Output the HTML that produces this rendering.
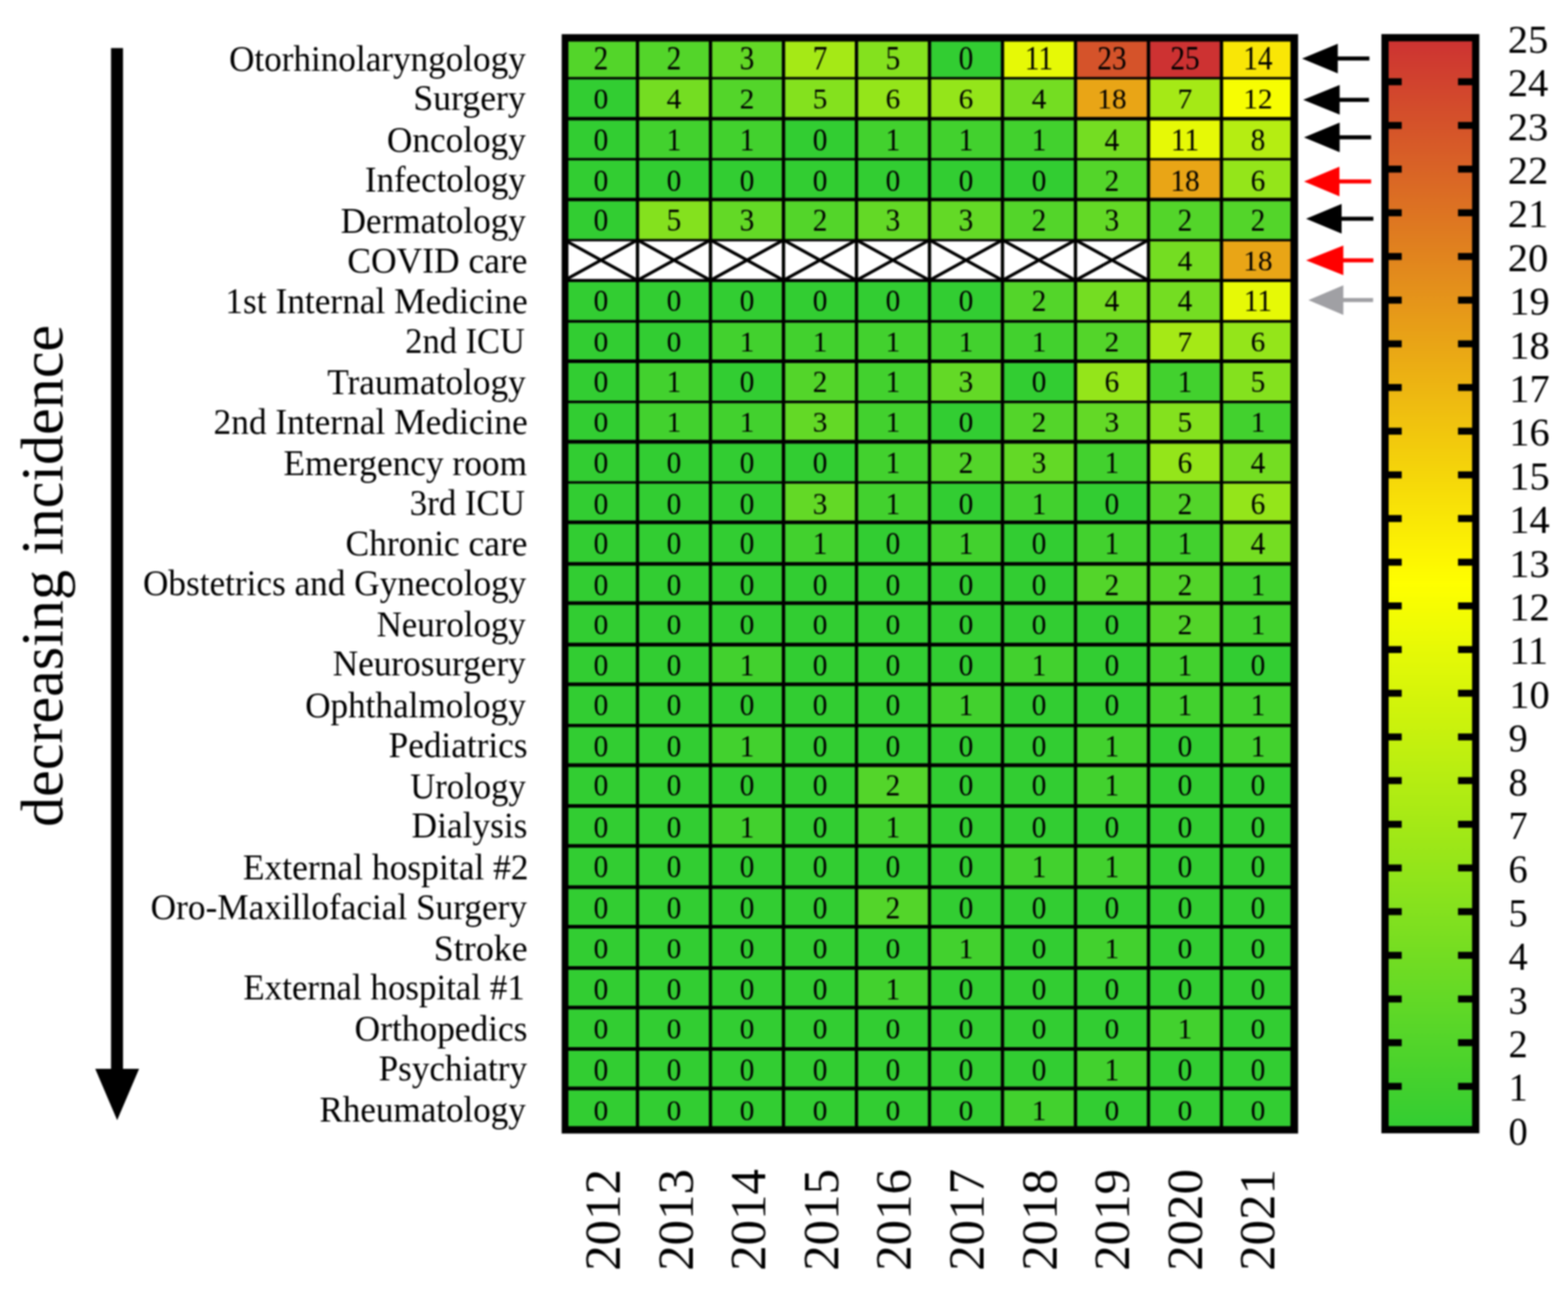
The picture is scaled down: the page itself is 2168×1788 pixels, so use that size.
<!DOCTYPE html>
<html lang="en"><head><meta charset="utf-8"><title>Incidence heatmap</title>
<style>
html,body{margin:0;padding:0;background:#fff;}
body{width:2168px;height:1788px;overflow:hidden;}
svg{display:block;filter:blur(0.9px);}
text{font-family:"Liberation Serif",serif;fill:#000;}
.lab{font-size:50px;text-anchor:end;}
.num{font-size:44px;text-anchor:middle;}
.yr{font-size:70.5px;text-anchor:middle;}
.cb{font-size:56px;text-anchor:start;}
.ttl{font-size:82.5px;text-anchor:middle;}
</style></head><body>
<svg width="2168" height="1788" viewBox="0 0 2168 1788">
<defs><linearGradient id="cbg" x1="0" y1="0" x2="0" y2="1">
<stop offset="0" stop-color="#cd3232"/><stop offset="0.5" stop-color="#ffff00"/><stop offset="1" stop-color="#32cd32"/>
</linearGradient></defs>
<rect x="0" y="0" width="2168" height="1788" fill="#fff"/>
<g id="bigarrow">
<rect x="153.5" y="66.5" width="16.6" height="1420" fill="#000"/>
<polygon points="131.7,1478 192.3,1478 162,1549" fill="#000"/>
</g>
<text class="ttl" transform="translate(85.8,796.4) rotate(-90) scale(1.007,1)">decreasing incidence</text>
<g id="cells">
<rect x="780.50" y="52.15" width="100.93" height="55.93" fill="#53d52a"/>
<rect x="881.43" y="52.15" width="100.93" height="55.93" fill="#53d52a"/>
<rect x="982.36" y="52.15" width="100.93" height="55.93" fill="#63d926"/>
<rect x="1083.29" y="52.15" width="100.93" height="55.93" fill="#a5e916"/>
<rect x="1184.22" y="52.15" width="100.93" height="55.93" fill="#84e11e"/>
<rect x="1285.15" y="52.15" width="100.93" height="55.93" fill="#32cd32"/>
<rect x="1386.08" y="52.15" width="100.93" height="55.93" fill="#e6f906"/>
<rect x="1487.01" y="52.15" width="100.93" height="55.93" fill="#d5532a"/>
<rect x="1587.94" y="52.15" width="100.93" height="55.93" fill="#cd3232"/>
<rect x="1688.87" y="52.15" width="100.93" height="55.93" fill="#f9e606"/>
<rect x="780.50" y="108.08" width="100.93" height="55.93" fill="#32cd32"/>
<rect x="881.43" y="108.08" width="100.93" height="55.93" fill="#74dd22"/>
<rect x="982.36" y="108.08" width="100.93" height="55.93" fill="#53d52a"/>
<rect x="1083.29" y="108.08" width="100.93" height="55.93" fill="#84e11e"/>
<rect x="1184.22" y="108.08" width="100.93" height="55.93" fill="#94e51a"/>
<rect x="1285.15" y="108.08" width="100.93" height="55.93" fill="#94e51a"/>
<rect x="1386.08" y="108.08" width="100.93" height="55.93" fill="#74dd22"/>
<rect x="1487.01" y="108.08" width="100.93" height="55.93" fill="#e9a516"/>
<rect x="1587.94" y="108.08" width="100.93" height="55.93" fill="#a5e916"/>
<rect x="1688.87" y="108.08" width="100.93" height="55.93" fill="#f7fd02"/>
<rect x="780.50" y="164.00" width="100.93" height="55.93" fill="#32cd32"/>
<rect x="881.43" y="164.00" width="100.93" height="55.93" fill="#42d12e"/>
<rect x="982.36" y="164.00" width="100.93" height="55.93" fill="#42d12e"/>
<rect x="1083.29" y="164.00" width="100.93" height="55.93" fill="#32cd32"/>
<rect x="1184.22" y="164.00" width="100.93" height="55.93" fill="#42d12e"/>
<rect x="1285.15" y="164.00" width="100.93" height="55.93" fill="#42d12e"/>
<rect x="1386.08" y="164.00" width="100.93" height="55.93" fill="#42d12e"/>
<rect x="1487.01" y="164.00" width="100.93" height="55.93" fill="#74dd22"/>
<rect x="1587.94" y="164.00" width="100.93" height="55.93" fill="#e6f906"/>
<rect x="1688.87" y="164.00" width="100.93" height="55.93" fill="#b5ed12"/>
<rect x="780.50" y="219.93" width="100.93" height="55.93" fill="#32cd32"/>
<rect x="881.43" y="219.93" width="100.93" height="55.93" fill="#32cd32"/>
<rect x="982.36" y="219.93" width="100.93" height="55.93" fill="#32cd32"/>
<rect x="1083.29" y="219.93" width="100.93" height="55.93" fill="#32cd32"/>
<rect x="1184.22" y="219.93" width="100.93" height="55.93" fill="#32cd32"/>
<rect x="1285.15" y="219.93" width="100.93" height="55.93" fill="#32cd32"/>
<rect x="1386.08" y="219.93" width="100.93" height="55.93" fill="#32cd32"/>
<rect x="1487.01" y="219.93" width="100.93" height="55.93" fill="#53d52a"/>
<rect x="1587.94" y="219.93" width="100.93" height="55.93" fill="#e9a516"/>
<rect x="1688.87" y="219.93" width="100.93" height="55.93" fill="#94e51a"/>
<rect x="780.50" y="275.85" width="100.93" height="55.93" fill="#32cd32"/>
<rect x="881.43" y="275.85" width="100.93" height="55.93" fill="#84e11e"/>
<rect x="982.36" y="275.85" width="100.93" height="55.93" fill="#63d926"/>
<rect x="1083.29" y="275.85" width="100.93" height="55.93" fill="#53d52a"/>
<rect x="1184.22" y="275.85" width="100.93" height="55.93" fill="#63d926"/>
<rect x="1285.15" y="275.85" width="100.93" height="55.93" fill="#63d926"/>
<rect x="1386.08" y="275.85" width="100.93" height="55.93" fill="#53d52a"/>
<rect x="1487.01" y="275.85" width="100.93" height="55.93" fill="#63d926"/>
<rect x="1587.94" y="275.85" width="100.93" height="55.93" fill="#53d52a"/>
<rect x="1688.87" y="275.85" width="100.93" height="55.93" fill="#53d52a"/>
<rect x="780.50" y="331.78" width="100.93" height="55.93" fill="#fff"/>
<path d="M780.50 331.78 L881.43 387.71 M780.50 387.71 L881.43 331.78" stroke="#000" stroke-width="4.3" fill="none"/>
<rect x="881.43" y="331.78" width="100.93" height="55.93" fill="#fff"/>
<path d="M881.43 331.78 L982.36 387.71 M881.43 387.71 L982.36 331.78" stroke="#000" stroke-width="4.3" fill="none"/>
<rect x="982.36" y="331.78" width="100.93" height="55.93" fill="#fff"/>
<path d="M982.36 331.78 L1083.29 387.71 M982.36 387.71 L1083.29 331.78" stroke="#000" stroke-width="4.3" fill="none"/>
<rect x="1083.29" y="331.78" width="100.93" height="55.93" fill="#fff"/>
<path d="M1083.29 331.78 L1184.22 387.71 M1083.29 387.71 L1184.22 331.78" stroke="#000" stroke-width="4.3" fill="none"/>
<rect x="1184.22" y="331.78" width="100.93" height="55.93" fill="#fff"/>
<path d="M1184.22 331.78 L1285.15 387.71 M1184.22 387.71 L1285.15 331.78" stroke="#000" stroke-width="4.3" fill="none"/>
<rect x="1285.15" y="331.78" width="100.93" height="55.93" fill="#fff"/>
<path d="M1285.15 331.78 L1386.08 387.71 M1285.15 387.71 L1386.08 331.78" stroke="#000" stroke-width="4.3" fill="none"/>
<rect x="1386.08" y="331.78" width="100.93" height="55.93" fill="#fff"/>
<path d="M1386.08 331.78 L1487.01 387.71 M1386.08 387.71 L1487.01 331.78" stroke="#000" stroke-width="4.3" fill="none"/>
<rect x="1487.01" y="331.78" width="100.93" height="55.93" fill="#fff"/>
<path d="M1487.01 331.78 L1587.94 387.71 M1487.01 387.71 L1587.94 331.78" stroke="#000" stroke-width="4.3" fill="none"/>
<rect x="1587.94" y="331.78" width="100.93" height="55.93" fill="#74dd22"/>
<rect x="1688.87" y="331.78" width="100.93" height="55.93" fill="#e9a516"/>
<rect x="780.50" y="387.71" width="100.93" height="55.93" fill="#32cd32"/>
<rect x="881.43" y="387.71" width="100.93" height="55.93" fill="#32cd32"/>
<rect x="982.36" y="387.71" width="100.93" height="55.93" fill="#32cd32"/>
<rect x="1083.29" y="387.71" width="100.93" height="55.93" fill="#32cd32"/>
<rect x="1184.22" y="387.71" width="100.93" height="55.93" fill="#32cd32"/>
<rect x="1285.15" y="387.71" width="100.93" height="55.93" fill="#32cd32"/>
<rect x="1386.08" y="387.71" width="100.93" height="55.93" fill="#53d52a"/>
<rect x="1487.01" y="387.71" width="100.93" height="55.93" fill="#74dd22"/>
<rect x="1587.94" y="387.71" width="100.93" height="55.93" fill="#74dd22"/>
<rect x="1688.87" y="387.71" width="100.93" height="55.93" fill="#e6f906"/>
<rect x="780.50" y="443.63" width="100.93" height="55.93" fill="#32cd32"/>
<rect x="881.43" y="443.63" width="100.93" height="55.93" fill="#32cd32"/>
<rect x="982.36" y="443.63" width="100.93" height="55.93" fill="#42d12e"/>
<rect x="1083.29" y="443.63" width="100.93" height="55.93" fill="#42d12e"/>
<rect x="1184.22" y="443.63" width="100.93" height="55.93" fill="#42d12e"/>
<rect x="1285.15" y="443.63" width="100.93" height="55.93" fill="#42d12e"/>
<rect x="1386.08" y="443.63" width="100.93" height="55.93" fill="#42d12e"/>
<rect x="1487.01" y="443.63" width="100.93" height="55.93" fill="#53d52a"/>
<rect x="1587.94" y="443.63" width="100.93" height="55.93" fill="#a5e916"/>
<rect x="1688.87" y="443.63" width="100.93" height="55.93" fill="#94e51a"/>
<rect x="780.50" y="499.56" width="100.93" height="55.93" fill="#32cd32"/>
<rect x="881.43" y="499.56" width="100.93" height="55.93" fill="#42d12e"/>
<rect x="982.36" y="499.56" width="100.93" height="55.93" fill="#32cd32"/>
<rect x="1083.29" y="499.56" width="100.93" height="55.93" fill="#53d52a"/>
<rect x="1184.22" y="499.56" width="100.93" height="55.93" fill="#42d12e"/>
<rect x="1285.15" y="499.56" width="100.93" height="55.93" fill="#63d926"/>
<rect x="1386.08" y="499.56" width="100.93" height="55.93" fill="#32cd32"/>
<rect x="1487.01" y="499.56" width="100.93" height="55.93" fill="#94e51a"/>
<rect x="1587.94" y="499.56" width="100.93" height="55.93" fill="#42d12e"/>
<rect x="1688.87" y="499.56" width="100.93" height="55.93" fill="#84e11e"/>
<rect x="780.50" y="555.48" width="100.93" height="55.93" fill="#32cd32"/>
<rect x="881.43" y="555.48" width="100.93" height="55.93" fill="#42d12e"/>
<rect x="982.36" y="555.48" width="100.93" height="55.93" fill="#42d12e"/>
<rect x="1083.29" y="555.48" width="100.93" height="55.93" fill="#63d926"/>
<rect x="1184.22" y="555.48" width="100.93" height="55.93" fill="#42d12e"/>
<rect x="1285.15" y="555.48" width="100.93" height="55.93" fill="#32cd32"/>
<rect x="1386.08" y="555.48" width="100.93" height="55.93" fill="#53d52a"/>
<rect x="1487.01" y="555.48" width="100.93" height="55.93" fill="#63d926"/>
<rect x="1587.94" y="555.48" width="100.93" height="55.93" fill="#84e11e"/>
<rect x="1688.87" y="555.48" width="100.93" height="55.93" fill="#42d12e"/>
<rect x="780.50" y="611.41" width="100.93" height="55.93" fill="#32cd32"/>
<rect x="881.43" y="611.41" width="100.93" height="55.93" fill="#32cd32"/>
<rect x="982.36" y="611.41" width="100.93" height="55.93" fill="#32cd32"/>
<rect x="1083.29" y="611.41" width="100.93" height="55.93" fill="#32cd32"/>
<rect x="1184.22" y="611.41" width="100.93" height="55.93" fill="#42d12e"/>
<rect x="1285.15" y="611.41" width="100.93" height="55.93" fill="#53d52a"/>
<rect x="1386.08" y="611.41" width="100.93" height="55.93" fill="#63d926"/>
<rect x="1487.01" y="611.41" width="100.93" height="55.93" fill="#42d12e"/>
<rect x="1587.94" y="611.41" width="100.93" height="55.93" fill="#94e51a"/>
<rect x="1688.87" y="611.41" width="100.93" height="55.93" fill="#74dd22"/>
<rect x="780.50" y="667.34" width="100.93" height="55.93" fill="#32cd32"/>
<rect x="881.43" y="667.34" width="100.93" height="55.93" fill="#32cd32"/>
<rect x="982.36" y="667.34" width="100.93" height="55.93" fill="#32cd32"/>
<rect x="1083.29" y="667.34" width="100.93" height="55.93" fill="#63d926"/>
<rect x="1184.22" y="667.34" width="100.93" height="55.93" fill="#42d12e"/>
<rect x="1285.15" y="667.34" width="100.93" height="55.93" fill="#32cd32"/>
<rect x="1386.08" y="667.34" width="100.93" height="55.93" fill="#42d12e"/>
<rect x="1487.01" y="667.34" width="100.93" height="55.93" fill="#32cd32"/>
<rect x="1587.94" y="667.34" width="100.93" height="55.93" fill="#53d52a"/>
<rect x="1688.87" y="667.34" width="100.93" height="55.93" fill="#94e51a"/>
<rect x="780.50" y="723.26" width="100.93" height="55.93" fill="#32cd32"/>
<rect x="881.43" y="723.26" width="100.93" height="55.93" fill="#32cd32"/>
<rect x="982.36" y="723.26" width="100.93" height="55.93" fill="#32cd32"/>
<rect x="1083.29" y="723.26" width="100.93" height="55.93" fill="#42d12e"/>
<rect x="1184.22" y="723.26" width="100.93" height="55.93" fill="#32cd32"/>
<rect x="1285.15" y="723.26" width="100.93" height="55.93" fill="#42d12e"/>
<rect x="1386.08" y="723.26" width="100.93" height="55.93" fill="#32cd32"/>
<rect x="1487.01" y="723.26" width="100.93" height="55.93" fill="#42d12e"/>
<rect x="1587.94" y="723.26" width="100.93" height="55.93" fill="#42d12e"/>
<rect x="1688.87" y="723.26" width="100.93" height="55.93" fill="#74dd22"/>
<rect x="780.50" y="779.19" width="100.93" height="55.93" fill="#32cd32"/>
<rect x="881.43" y="779.19" width="100.93" height="55.93" fill="#32cd32"/>
<rect x="982.36" y="779.19" width="100.93" height="55.93" fill="#32cd32"/>
<rect x="1083.29" y="779.19" width="100.93" height="55.93" fill="#32cd32"/>
<rect x="1184.22" y="779.19" width="100.93" height="55.93" fill="#32cd32"/>
<rect x="1285.15" y="779.19" width="100.93" height="55.93" fill="#32cd32"/>
<rect x="1386.08" y="779.19" width="100.93" height="55.93" fill="#32cd32"/>
<rect x="1487.01" y="779.19" width="100.93" height="55.93" fill="#53d52a"/>
<rect x="1587.94" y="779.19" width="100.93" height="55.93" fill="#53d52a"/>
<rect x="1688.87" y="779.19" width="100.93" height="55.93" fill="#42d12e"/>
<rect x="780.50" y="835.11" width="100.93" height="55.93" fill="#32cd32"/>
<rect x="881.43" y="835.11" width="100.93" height="55.93" fill="#32cd32"/>
<rect x="982.36" y="835.11" width="100.93" height="55.93" fill="#32cd32"/>
<rect x="1083.29" y="835.11" width="100.93" height="55.93" fill="#32cd32"/>
<rect x="1184.22" y="835.11" width="100.93" height="55.93" fill="#32cd32"/>
<rect x="1285.15" y="835.11" width="100.93" height="55.93" fill="#32cd32"/>
<rect x="1386.08" y="835.11" width="100.93" height="55.93" fill="#32cd32"/>
<rect x="1487.01" y="835.11" width="100.93" height="55.93" fill="#32cd32"/>
<rect x="1587.94" y="835.11" width="100.93" height="55.93" fill="#53d52a"/>
<rect x="1688.87" y="835.11" width="100.93" height="55.93" fill="#42d12e"/>
<rect x="780.50" y="891.04" width="100.93" height="55.93" fill="#32cd32"/>
<rect x="881.43" y="891.04" width="100.93" height="55.93" fill="#32cd32"/>
<rect x="982.36" y="891.04" width="100.93" height="55.93" fill="#42d12e"/>
<rect x="1083.29" y="891.04" width="100.93" height="55.93" fill="#32cd32"/>
<rect x="1184.22" y="891.04" width="100.93" height="55.93" fill="#32cd32"/>
<rect x="1285.15" y="891.04" width="100.93" height="55.93" fill="#32cd32"/>
<rect x="1386.08" y="891.04" width="100.93" height="55.93" fill="#42d12e"/>
<rect x="1487.01" y="891.04" width="100.93" height="55.93" fill="#32cd32"/>
<rect x="1587.94" y="891.04" width="100.93" height="55.93" fill="#42d12e"/>
<rect x="1688.87" y="891.04" width="100.93" height="55.93" fill="#32cd32"/>
<rect x="780.50" y="946.96" width="100.93" height="55.93" fill="#32cd32"/>
<rect x="881.43" y="946.96" width="100.93" height="55.93" fill="#32cd32"/>
<rect x="982.36" y="946.96" width="100.93" height="55.93" fill="#32cd32"/>
<rect x="1083.29" y="946.96" width="100.93" height="55.93" fill="#32cd32"/>
<rect x="1184.22" y="946.96" width="100.93" height="55.93" fill="#32cd32"/>
<rect x="1285.15" y="946.96" width="100.93" height="55.93" fill="#42d12e"/>
<rect x="1386.08" y="946.96" width="100.93" height="55.93" fill="#32cd32"/>
<rect x="1487.01" y="946.96" width="100.93" height="55.93" fill="#32cd32"/>
<rect x="1587.94" y="946.96" width="100.93" height="55.93" fill="#42d12e"/>
<rect x="1688.87" y="946.96" width="100.93" height="55.93" fill="#42d12e"/>
<rect x="780.50" y="1002.89" width="100.93" height="55.93" fill="#32cd32"/>
<rect x="881.43" y="1002.89" width="100.93" height="55.93" fill="#32cd32"/>
<rect x="982.36" y="1002.89" width="100.93" height="55.93" fill="#42d12e"/>
<rect x="1083.29" y="1002.89" width="100.93" height="55.93" fill="#32cd32"/>
<rect x="1184.22" y="1002.89" width="100.93" height="55.93" fill="#32cd32"/>
<rect x="1285.15" y="1002.89" width="100.93" height="55.93" fill="#32cd32"/>
<rect x="1386.08" y="1002.89" width="100.93" height="55.93" fill="#32cd32"/>
<rect x="1487.01" y="1002.89" width="100.93" height="55.93" fill="#42d12e"/>
<rect x="1587.94" y="1002.89" width="100.93" height="55.93" fill="#32cd32"/>
<rect x="1688.87" y="1002.89" width="100.93" height="55.93" fill="#42d12e"/>
<rect x="780.50" y="1058.82" width="100.93" height="55.93" fill="#32cd32"/>
<rect x="881.43" y="1058.82" width="100.93" height="55.93" fill="#32cd32"/>
<rect x="982.36" y="1058.82" width="100.93" height="55.93" fill="#32cd32"/>
<rect x="1083.29" y="1058.82" width="100.93" height="55.93" fill="#32cd32"/>
<rect x="1184.22" y="1058.82" width="100.93" height="55.93" fill="#53d52a"/>
<rect x="1285.15" y="1058.82" width="100.93" height="55.93" fill="#32cd32"/>
<rect x="1386.08" y="1058.82" width="100.93" height="55.93" fill="#32cd32"/>
<rect x="1487.01" y="1058.82" width="100.93" height="55.93" fill="#42d12e"/>
<rect x="1587.94" y="1058.82" width="100.93" height="55.93" fill="#32cd32"/>
<rect x="1688.87" y="1058.82" width="100.93" height="55.93" fill="#32cd32"/>
<rect x="780.50" y="1114.74" width="100.93" height="55.93" fill="#32cd32"/>
<rect x="881.43" y="1114.74" width="100.93" height="55.93" fill="#32cd32"/>
<rect x="982.36" y="1114.74" width="100.93" height="55.93" fill="#42d12e"/>
<rect x="1083.29" y="1114.74" width="100.93" height="55.93" fill="#32cd32"/>
<rect x="1184.22" y="1114.74" width="100.93" height="55.93" fill="#42d12e"/>
<rect x="1285.15" y="1114.74" width="100.93" height="55.93" fill="#32cd32"/>
<rect x="1386.08" y="1114.74" width="100.93" height="55.93" fill="#32cd32"/>
<rect x="1487.01" y="1114.74" width="100.93" height="55.93" fill="#32cd32"/>
<rect x="1587.94" y="1114.74" width="100.93" height="55.93" fill="#32cd32"/>
<rect x="1688.87" y="1114.74" width="100.93" height="55.93" fill="#32cd32"/>
<rect x="780.50" y="1170.67" width="100.93" height="55.93" fill="#32cd32"/>
<rect x="881.43" y="1170.67" width="100.93" height="55.93" fill="#32cd32"/>
<rect x="982.36" y="1170.67" width="100.93" height="55.93" fill="#32cd32"/>
<rect x="1083.29" y="1170.67" width="100.93" height="55.93" fill="#32cd32"/>
<rect x="1184.22" y="1170.67" width="100.93" height="55.93" fill="#32cd32"/>
<rect x="1285.15" y="1170.67" width="100.93" height="55.93" fill="#32cd32"/>
<rect x="1386.08" y="1170.67" width="100.93" height="55.93" fill="#42d12e"/>
<rect x="1487.01" y="1170.67" width="100.93" height="55.93" fill="#42d12e"/>
<rect x="1587.94" y="1170.67" width="100.93" height="55.93" fill="#32cd32"/>
<rect x="1688.87" y="1170.67" width="100.93" height="55.93" fill="#32cd32"/>
<rect x="780.50" y="1226.59" width="100.93" height="55.93" fill="#32cd32"/>
<rect x="881.43" y="1226.59" width="100.93" height="55.93" fill="#32cd32"/>
<rect x="982.36" y="1226.59" width="100.93" height="55.93" fill="#32cd32"/>
<rect x="1083.29" y="1226.59" width="100.93" height="55.93" fill="#32cd32"/>
<rect x="1184.22" y="1226.59" width="100.93" height="55.93" fill="#53d52a"/>
<rect x="1285.15" y="1226.59" width="100.93" height="55.93" fill="#32cd32"/>
<rect x="1386.08" y="1226.59" width="100.93" height="55.93" fill="#32cd32"/>
<rect x="1487.01" y="1226.59" width="100.93" height="55.93" fill="#32cd32"/>
<rect x="1587.94" y="1226.59" width="100.93" height="55.93" fill="#32cd32"/>
<rect x="1688.87" y="1226.59" width="100.93" height="55.93" fill="#32cd32"/>
<rect x="780.50" y="1282.52" width="100.93" height="55.93" fill="#32cd32"/>
<rect x="881.43" y="1282.52" width="100.93" height="55.93" fill="#32cd32"/>
<rect x="982.36" y="1282.52" width="100.93" height="55.93" fill="#32cd32"/>
<rect x="1083.29" y="1282.52" width="100.93" height="55.93" fill="#32cd32"/>
<rect x="1184.22" y="1282.52" width="100.93" height="55.93" fill="#32cd32"/>
<rect x="1285.15" y="1282.52" width="100.93" height="55.93" fill="#42d12e"/>
<rect x="1386.08" y="1282.52" width="100.93" height="55.93" fill="#32cd32"/>
<rect x="1487.01" y="1282.52" width="100.93" height="55.93" fill="#42d12e"/>
<rect x="1587.94" y="1282.52" width="100.93" height="55.93" fill="#32cd32"/>
<rect x="1688.87" y="1282.52" width="100.93" height="55.93" fill="#32cd32"/>
<rect x="780.50" y="1338.45" width="100.93" height="55.93" fill="#32cd32"/>
<rect x="881.43" y="1338.45" width="100.93" height="55.93" fill="#32cd32"/>
<rect x="982.36" y="1338.45" width="100.93" height="55.93" fill="#32cd32"/>
<rect x="1083.29" y="1338.45" width="100.93" height="55.93" fill="#32cd32"/>
<rect x="1184.22" y="1338.45" width="100.93" height="55.93" fill="#42d12e"/>
<rect x="1285.15" y="1338.45" width="100.93" height="55.93" fill="#32cd32"/>
<rect x="1386.08" y="1338.45" width="100.93" height="55.93" fill="#32cd32"/>
<rect x="1487.01" y="1338.45" width="100.93" height="55.93" fill="#32cd32"/>
<rect x="1587.94" y="1338.45" width="100.93" height="55.93" fill="#32cd32"/>
<rect x="1688.87" y="1338.45" width="100.93" height="55.93" fill="#32cd32"/>
<rect x="780.50" y="1394.37" width="100.93" height="55.93" fill="#32cd32"/>
<rect x="881.43" y="1394.37" width="100.93" height="55.93" fill="#32cd32"/>
<rect x="982.36" y="1394.37" width="100.93" height="55.93" fill="#32cd32"/>
<rect x="1083.29" y="1394.37" width="100.93" height="55.93" fill="#32cd32"/>
<rect x="1184.22" y="1394.37" width="100.93" height="55.93" fill="#32cd32"/>
<rect x="1285.15" y="1394.37" width="100.93" height="55.93" fill="#32cd32"/>
<rect x="1386.08" y="1394.37" width="100.93" height="55.93" fill="#32cd32"/>
<rect x="1487.01" y="1394.37" width="100.93" height="55.93" fill="#32cd32"/>
<rect x="1587.94" y="1394.37" width="100.93" height="55.93" fill="#42d12e"/>
<rect x="1688.87" y="1394.37" width="100.93" height="55.93" fill="#32cd32"/>
<rect x="780.50" y="1450.30" width="100.93" height="55.93" fill="#32cd32"/>
<rect x="881.43" y="1450.30" width="100.93" height="55.93" fill="#32cd32"/>
<rect x="982.36" y="1450.30" width="100.93" height="55.93" fill="#32cd32"/>
<rect x="1083.29" y="1450.30" width="100.93" height="55.93" fill="#32cd32"/>
<rect x="1184.22" y="1450.30" width="100.93" height="55.93" fill="#32cd32"/>
<rect x="1285.15" y="1450.30" width="100.93" height="55.93" fill="#32cd32"/>
<rect x="1386.08" y="1450.30" width="100.93" height="55.93" fill="#32cd32"/>
<rect x="1487.01" y="1450.30" width="100.93" height="55.93" fill="#42d12e"/>
<rect x="1587.94" y="1450.30" width="100.93" height="55.93" fill="#32cd32"/>
<rect x="1688.87" y="1450.30" width="100.93" height="55.93" fill="#32cd32"/>
<rect x="780.50" y="1506.22" width="100.93" height="55.93" fill="#32cd32"/>
<rect x="881.43" y="1506.22" width="100.93" height="55.93" fill="#32cd32"/>
<rect x="982.36" y="1506.22" width="100.93" height="55.93" fill="#32cd32"/>
<rect x="1083.29" y="1506.22" width="100.93" height="55.93" fill="#32cd32"/>
<rect x="1184.22" y="1506.22" width="100.93" height="55.93" fill="#32cd32"/>
<rect x="1285.15" y="1506.22" width="100.93" height="55.93" fill="#32cd32"/>
<rect x="1386.08" y="1506.22" width="100.93" height="55.93" fill="#42d12e"/>
<rect x="1487.01" y="1506.22" width="100.93" height="55.93" fill="#32cd32"/>
<rect x="1587.94" y="1506.22" width="100.93" height="55.93" fill="#32cd32"/>
<rect x="1688.87" y="1506.22" width="100.93" height="55.93" fill="#32cd32"/>
</g>
<g id="grid" stroke="#000" stroke-width="4.6">
<line x1="881.43" y1="52.15" x2="881.43" y2="1562.15"/>
<line x1="982.36" y1="52.15" x2="982.36" y2="1562.15"/>
<line x1="1083.29" y1="52.15" x2="1083.29" y2="1562.15"/>
<line x1="1184.22" y1="52.15" x2="1184.22" y2="1562.15"/>
<line x1="1285.15" y1="52.15" x2="1285.15" y2="1562.15"/>
<line x1="1386.08" y1="52.15" x2="1386.08" y2="1562.15"/>
<line x1="1487.01" y1="52.15" x2="1487.01" y2="1562.15"/>
<line x1="1587.94" y1="52.15" x2="1587.94" y2="1562.15"/>
<line x1="1688.87" y1="52.15" x2="1688.87" y2="1562.15"/>
<line x1="780.50" y1="108.15" x2="1789.80" y2="108.15" stroke-width="3.4"/>
<line x1="780.50" y1="164.05" x2="1789.80" y2="164.05" stroke-width="4.7"/>
<line x1="780.50" y1="220.15" x2="1789.80" y2="220.15" stroke-width="3.3"/>
<line x1="780.50" y1="275.95" x2="1789.80" y2="275.95" stroke-width="4.7"/>
<line x1="780.50" y1="332.15" x2="1789.80" y2="332.15" stroke-width="3.4"/>
<line x1="780.50" y1="387.85" x2="1789.80" y2="387.85" stroke-width="4.4"/>
<line x1="780.50" y1="444.30" x2="1789.80" y2="444.30" stroke-width="3.8"/>
<line x1="780.50" y1="499.50" x2="1789.80" y2="499.50" stroke-width="4.8"/>
<line x1="780.50" y1="555.80" x2="1789.80" y2="555.80" stroke-width="3.6"/>
<line x1="780.50" y1="610.90" x2="1789.80" y2="610.90" stroke-width="5.2"/>
<line x1="780.50" y1="667.05" x2="1789.80" y2="667.05" stroke-width="3.2"/>
<line x1="780.50" y1="722.20" x2="1789.80" y2="722.20" stroke-width="5.0"/>
<line x1="780.50" y1="779.75" x2="1789.80" y2="779.75" stroke-width="5.2"/>
<line x1="780.50" y1="834.10" x2="1789.80" y2="834.10" stroke-width="5.0"/>
<line x1="780.50" y1="891.35" x2="1789.80" y2="891.35" stroke-width="5.2"/>
<line x1="780.50" y1="946.30" x2="1789.80" y2="946.30" stroke-width="5.0"/>
<line x1="780.50" y1="1003.30" x2="1789.80" y2="1003.30" stroke-width="4.6"/>
<line x1="780.50" y1="1058.10" x2="1789.80" y2="1058.10" stroke-width="5.2"/>
<line x1="780.50" y1="1114.60" x2="1789.80" y2="1114.60" stroke-width="5.0"/>
<line x1="780.50" y1="1169.80" x2="1789.80" y2="1169.80" stroke-width="5.1"/>
<line x1="780.50" y1="1226.80" x2="1789.80" y2="1226.80" stroke-width="5.1"/>
<line x1="780.50" y1="1281.40" x2="1789.80" y2="1281.40" stroke-width="5.0"/>
<line x1="780.50" y1="1338.60" x2="1789.80" y2="1338.60" stroke-width="5.0"/>
<line x1="780.50" y1="1393.20" x2="1789.80" y2="1393.20" stroke-width="5.0"/>
<line x1="780.50" y1="1450.50" x2="1789.80" y2="1450.50" stroke-width="5.0"/>
<line x1="780.50" y1="1505.10" x2="1789.80" y2="1505.10" stroke-width="5.1"/>
</g>
<path fill="#000" fill-rule="evenodd" d="M776.6 47.3H1794.8V1567.6H776.6Z M785.9 57.6H1784.2V1557.2H785.9Z"/>
<g id="nums">
<text class="num" transform="translate(830.97,95.90) scale(0.92,1.031)">2</text>
<text class="num" transform="translate(931.89,95.90) scale(0.92,1.031)">2</text>
<text class="num" transform="translate(1032.83,95.90) scale(0.92,1.031)">3</text>
<text class="num" transform="translate(1133.76,95.90) scale(0.92,1.031)">7</text>
<text class="num" transform="translate(1234.68,95.90) scale(0.92,1.031)">5</text>
<text class="num" transform="translate(1335.62,95.90) scale(0.92,1.031)">0</text>
<text class="num" transform="translate(1436.55,95.90) scale(0.92,1.031)">11</text>
<text class="num" transform="translate(1537.47,95.90) scale(0.92,1.031)">23</text>
<text class="num" transform="translate(1638.40,95.90) scale(0.92,1.031)">25</text>
<text class="num" transform="translate(1739.34,95.90) scale(0.92,1.031)">14</text>
<text class="num" transform="translate(830.97,149.90) scale(0.92,0.908)">0</text>
<text class="num" transform="translate(931.89,149.90) scale(0.92,0.908)">4</text>
<text class="num" transform="translate(1032.83,149.90) scale(0.92,0.908)">2</text>
<text class="num" transform="translate(1133.76,149.90) scale(0.92,0.908)">5</text>
<text class="num" transform="translate(1234.68,149.90) scale(0.92,0.908)">6</text>
<text class="num" transform="translate(1335.62,149.90) scale(0.92,0.908)">6</text>
<text class="num" transform="translate(1436.55,149.90) scale(0.92,0.908)">4</text>
<text class="num" transform="translate(1537.47,149.90) scale(0.92,0.908)">18</text>
<text class="num" transform="translate(1638.40,149.90) scale(0.92,0.908)">7</text>
<text class="num" transform="translate(1739.34,149.90) scale(0.92,0.908)">12</text>
<text class="num" transform="translate(830.97,207.50) scale(0.92,1.007)">0</text>
<text class="num" transform="translate(931.89,207.50) scale(0.92,1.007)">1</text>
<text class="num" transform="translate(1032.83,207.50) scale(0.92,1.007)">1</text>
<text class="num" transform="translate(1133.76,207.50) scale(0.92,1.007)">0</text>
<text class="num" transform="translate(1234.68,207.50) scale(0.92,1.007)">1</text>
<text class="num" transform="translate(1335.62,207.50) scale(0.92,1.007)">1</text>
<text class="num" transform="translate(1436.55,207.50) scale(0.92,1.007)">1</text>
<text class="num" transform="translate(1537.47,207.50) scale(0.92,1.007)">4</text>
<text class="num" transform="translate(1638.40,207.50) scale(0.92,1.007)">11</text>
<text class="num" transform="translate(1739.34,207.50) scale(0.92,1.007)">8</text>
<text class="num" transform="translate(830.97,263.60) scale(0.92,0.980)">0</text>
<text class="num" transform="translate(931.89,263.60) scale(0.92,0.980)">0</text>
<text class="num" transform="translate(1032.83,263.60) scale(0.92,0.980)">0</text>
<text class="num" transform="translate(1133.76,263.60) scale(0.92,0.980)">0</text>
<text class="num" transform="translate(1234.68,263.60) scale(0.92,0.980)">0</text>
<text class="num" transform="translate(1335.62,263.60) scale(0.92,0.980)">0</text>
<text class="num" transform="translate(1436.55,263.60) scale(0.92,0.980)">0</text>
<text class="num" transform="translate(1537.47,263.60) scale(0.92,0.980)">2</text>
<text class="num" transform="translate(1638.40,263.60) scale(0.92,0.980)">18</text>
<text class="num" transform="translate(1739.34,263.60) scale(0.92,0.980)">6</text>
<text class="num" transform="translate(830.97,319.10) scale(0.92,0.993)">0</text>
<text class="num" transform="translate(931.89,319.10) scale(0.92,0.993)">5</text>
<text class="num" transform="translate(1032.83,319.10) scale(0.92,0.993)">3</text>
<text class="num" transform="translate(1133.76,319.10) scale(0.92,0.993)">2</text>
<text class="num" transform="translate(1234.68,319.10) scale(0.92,0.993)">3</text>
<text class="num" transform="translate(1335.62,319.10) scale(0.92,0.993)">3</text>
<text class="num" transform="translate(1436.55,319.10) scale(0.92,0.993)">2</text>
<text class="num" transform="translate(1537.47,319.10) scale(0.92,0.993)">3</text>
<text class="num" transform="translate(1638.40,319.10) scale(0.92,0.993)">2</text>
<text class="num" transform="translate(1739.34,319.10) scale(0.92,0.993)">2</text>
<text class="num" transform="translate(1638.40,373.50) scale(0.92,0.929)">4</text>
<text class="num" transform="translate(1739.34,373.50) scale(0.92,0.929)">18</text>
<text class="num" transform="translate(830.97,430.30) scale(0.92,0.956)">0</text>
<text class="num" transform="translate(931.89,430.30) scale(0.92,0.956)">0</text>
<text class="num" transform="translate(1032.83,430.30) scale(0.92,0.956)">0</text>
<text class="num" transform="translate(1133.76,430.30) scale(0.92,0.956)">0</text>
<text class="num" transform="translate(1234.68,430.30) scale(0.92,0.956)">0</text>
<text class="num" transform="translate(1335.62,430.30) scale(0.92,0.956)">0</text>
<text class="num" transform="translate(1436.55,430.30) scale(0.92,0.956)">2</text>
<text class="num" transform="translate(1537.47,430.30) scale(0.92,0.956)">4</text>
<text class="num" transform="translate(1638.40,430.30) scale(0.92,0.956)">4</text>
<text class="num" transform="translate(1739.34,430.30) scale(0.92,0.956)">11</text>
<text class="num" transform="translate(830.97,485.80) scale(0.92,0.932)">0</text>
<text class="num" transform="translate(931.89,485.80) scale(0.92,0.932)">0</text>
<text class="num" transform="translate(1032.83,485.80) scale(0.92,0.932)">1</text>
<text class="num" transform="translate(1133.76,485.80) scale(0.92,0.932)">1</text>
<text class="num" transform="translate(1234.68,485.80) scale(0.92,0.932)">1</text>
<text class="num" transform="translate(1335.62,485.80) scale(0.92,0.932)">1</text>
<text class="num" transform="translate(1436.55,485.80) scale(0.92,0.932)">1</text>
<text class="num" transform="translate(1537.47,485.80) scale(0.92,0.932)">2</text>
<text class="num" transform="translate(1638.40,485.80) scale(0.92,0.932)">7</text>
<text class="num" transform="translate(1739.34,485.80) scale(0.92,0.932)">6</text>
<text class="num" transform="translate(830.97,542.20) scale(0.92,0.980)">0</text>
<text class="num" transform="translate(931.89,542.20) scale(0.92,0.980)">1</text>
<text class="num" transform="translate(1032.83,542.20) scale(0.92,0.980)">0</text>
<text class="num" transform="translate(1133.76,542.20) scale(0.92,0.980)">2</text>
<text class="num" transform="translate(1234.68,542.20) scale(0.92,0.980)">1</text>
<text class="num" transform="translate(1335.62,542.20) scale(0.92,0.980)">3</text>
<text class="num" transform="translate(1436.55,542.20) scale(0.92,0.980)">0</text>
<text class="num" transform="translate(1537.47,542.20) scale(0.92,0.980)">6</text>
<text class="num" transform="translate(1638.40,542.20) scale(0.92,0.980)">1</text>
<text class="num" transform="translate(1739.34,542.20) scale(0.92,0.980)">5</text>
<text class="num" transform="translate(830.97,596.90) scale(0.92,0.905)">0</text>
<text class="num" transform="translate(931.89,596.90) scale(0.92,0.905)">1</text>
<text class="num" transform="translate(1032.83,596.90) scale(0.92,0.905)">1</text>
<text class="num" transform="translate(1133.76,596.90) scale(0.92,0.905)">3</text>
<text class="num" transform="translate(1234.68,596.90) scale(0.92,0.905)">1</text>
<text class="num" transform="translate(1335.62,596.90) scale(0.92,0.905)">0</text>
<text class="num" transform="translate(1436.55,596.90) scale(0.92,0.905)">2</text>
<text class="num" transform="translate(1537.47,596.90) scale(0.92,0.905)">3</text>
<text class="num" transform="translate(1638.40,596.90) scale(0.92,0.905)">5</text>
<text class="num" transform="translate(1739.34,596.90) scale(0.92,0.905)">1</text>
<text class="num" transform="translate(830.97,653.80) scale(0.92,0.980)">0</text>
<text class="num" transform="translate(931.89,653.80) scale(0.92,0.980)">0</text>
<text class="num" transform="translate(1032.83,653.80) scale(0.92,0.980)">0</text>
<text class="num" transform="translate(1133.76,653.80) scale(0.92,0.980)">0</text>
<text class="num" transform="translate(1234.68,653.80) scale(0.92,0.980)">1</text>
<text class="num" transform="translate(1335.62,653.80) scale(0.92,0.980)">2</text>
<text class="num" transform="translate(1436.55,653.80) scale(0.92,0.980)">3</text>
<text class="num" transform="translate(1537.47,653.80) scale(0.92,0.980)">1</text>
<text class="num" transform="translate(1638.40,653.80) scale(0.92,0.980)">6</text>
<text class="num" transform="translate(1739.34,653.80) scale(0.92,0.980)">4</text>
<text class="num" transform="translate(830.97,710.70) scale(0.92,0.980)">0</text>
<text class="num" transform="translate(931.89,710.70) scale(0.92,0.980)">0</text>
<text class="num" transform="translate(1032.83,710.70) scale(0.92,0.980)">0</text>
<text class="num" transform="translate(1133.76,710.70) scale(0.92,0.980)">3</text>
<text class="num" transform="translate(1234.68,710.70) scale(0.92,0.980)">1</text>
<text class="num" transform="translate(1335.62,710.70) scale(0.92,0.980)">0</text>
<text class="num" transform="translate(1436.55,710.70) scale(0.92,0.980)">1</text>
<text class="num" transform="translate(1537.47,710.70) scale(0.92,0.980)">0</text>
<text class="num" transform="translate(1638.40,710.70) scale(0.92,0.980)">2</text>
<text class="num" transform="translate(1739.34,710.70) scale(0.92,0.980)">6</text>
<text class="num" transform="translate(830.97,765.80) scale(0.92,1.003)">0</text>
<text class="num" transform="translate(931.89,765.80) scale(0.92,1.003)">0</text>
<text class="num" transform="translate(1032.83,765.80) scale(0.92,1.003)">0</text>
<text class="num" transform="translate(1133.76,765.80) scale(0.92,1.003)">1</text>
<text class="num" transform="translate(1234.68,765.80) scale(0.92,1.003)">0</text>
<text class="num" transform="translate(1335.62,765.80) scale(0.92,1.003)">1</text>
<text class="num" transform="translate(1436.55,765.80) scale(0.92,1.003)">0</text>
<text class="num" transform="translate(1537.47,765.80) scale(0.92,1.003)">1</text>
<text class="num" transform="translate(1638.40,765.80) scale(0.92,1.003)">1</text>
<text class="num" transform="translate(1739.34,765.80) scale(0.92,1.003)">4</text>
<text class="num" transform="translate(830.97,822.70) scale(0.92,0.980)">0</text>
<text class="num" transform="translate(931.89,822.70) scale(0.92,0.980)">0</text>
<text class="num" transform="translate(1032.83,822.70) scale(0.92,0.980)">0</text>
<text class="num" transform="translate(1133.76,822.70) scale(0.92,0.980)">0</text>
<text class="num" transform="translate(1234.68,822.70) scale(0.92,0.980)">0</text>
<text class="num" transform="translate(1335.62,822.70) scale(0.92,0.980)">0</text>
<text class="num" transform="translate(1436.55,822.70) scale(0.92,0.980)">0</text>
<text class="num" transform="translate(1537.47,822.70) scale(0.92,0.980)">2</text>
<text class="num" transform="translate(1638.40,822.70) scale(0.92,0.980)">2</text>
<text class="num" transform="translate(1739.34,822.70) scale(0.92,0.980)">1</text>
<text class="num" transform="translate(830.97,877.40) scale(0.92,0.932)">0</text>
<text class="num" transform="translate(931.89,877.40) scale(0.92,0.932)">0</text>
<text class="num" transform="translate(1032.83,877.40) scale(0.92,0.932)">0</text>
<text class="num" transform="translate(1133.76,877.40) scale(0.92,0.932)">0</text>
<text class="num" transform="translate(1234.68,877.40) scale(0.92,0.932)">0</text>
<text class="num" transform="translate(1335.62,877.40) scale(0.92,0.932)">0</text>
<text class="num" transform="translate(1436.55,877.40) scale(0.92,0.932)">0</text>
<text class="num" transform="translate(1537.47,877.40) scale(0.92,0.932)">0</text>
<text class="num" transform="translate(1638.40,877.40) scale(0.92,0.932)">2</text>
<text class="num" transform="translate(1739.34,877.40) scale(0.92,0.932)">1</text>
<text class="num" transform="translate(830.97,934.30) scale(0.92,0.980)">0</text>
<text class="num" transform="translate(931.89,934.30) scale(0.92,0.980)">0</text>
<text class="num" transform="translate(1032.83,934.30) scale(0.92,0.980)">1</text>
<text class="num" transform="translate(1133.76,934.30) scale(0.92,0.980)">0</text>
<text class="num" transform="translate(1234.68,934.30) scale(0.92,0.980)">0</text>
<text class="num" transform="translate(1335.62,934.30) scale(0.92,0.980)">0</text>
<text class="num" transform="translate(1436.55,934.30) scale(0.92,0.980)">1</text>
<text class="num" transform="translate(1537.47,934.30) scale(0.92,0.980)">0</text>
<text class="num" transform="translate(1638.40,934.30) scale(0.92,0.980)">1</text>
<text class="num" transform="translate(1739.34,934.30) scale(0.92,0.980)">0</text>
<text class="num" transform="translate(830.97,989.40) scale(0.92,0.956)">0</text>
<text class="num" transform="translate(931.89,989.40) scale(0.92,0.956)">0</text>
<text class="num" transform="translate(1032.83,989.40) scale(0.92,0.956)">0</text>
<text class="num" transform="translate(1133.76,989.40) scale(0.92,0.956)">0</text>
<text class="num" transform="translate(1234.68,989.40) scale(0.92,0.956)">0</text>
<text class="num" transform="translate(1335.62,989.40) scale(0.92,0.956)">1</text>
<text class="num" transform="translate(1436.55,989.40) scale(0.92,0.956)">0</text>
<text class="num" transform="translate(1537.47,989.40) scale(0.92,0.956)">0</text>
<text class="num" transform="translate(1638.40,989.40) scale(0.92,0.956)">1</text>
<text class="num" transform="translate(1739.34,989.40) scale(0.92,0.956)">1</text>
<text class="num" transform="translate(830.97,1046.30) scale(0.92,0.980)">0</text>
<text class="num" transform="translate(931.89,1046.30) scale(0.92,0.980)">0</text>
<text class="num" transform="translate(1032.83,1046.30) scale(0.92,0.980)">1</text>
<text class="num" transform="translate(1133.76,1046.30) scale(0.92,0.980)">0</text>
<text class="num" transform="translate(1234.68,1046.30) scale(0.92,0.980)">0</text>
<text class="num" transform="translate(1335.62,1046.30) scale(0.92,0.980)">0</text>
<text class="num" transform="translate(1436.55,1046.30) scale(0.92,0.980)">0</text>
<text class="num" transform="translate(1537.47,1046.30) scale(0.92,0.980)">1</text>
<text class="num" transform="translate(1638.40,1046.30) scale(0.92,0.980)">0</text>
<text class="num" transform="translate(1739.34,1046.30) scale(0.92,0.980)">1</text>
<text class="num" transform="translate(830.97,1100.30) scale(0.92,0.956)">0</text>
<text class="num" transform="translate(931.89,1100.30) scale(0.92,0.956)">0</text>
<text class="num" transform="translate(1032.83,1100.30) scale(0.92,0.956)">0</text>
<text class="num" transform="translate(1133.76,1100.30) scale(0.92,0.956)">0</text>
<text class="num" transform="translate(1234.68,1100.30) scale(0.92,0.956)">2</text>
<text class="num" transform="translate(1335.62,1100.30) scale(0.92,0.956)">0</text>
<text class="num" transform="translate(1436.55,1100.30) scale(0.92,0.956)">0</text>
<text class="num" transform="translate(1537.47,1100.30) scale(0.92,0.956)">1</text>
<text class="num" transform="translate(1638.40,1100.30) scale(0.92,0.956)">0</text>
<text class="num" transform="translate(1739.34,1100.30) scale(0.92,0.956)">0</text>
<text class="num" transform="translate(830.97,1157.90) scale(0.92,0.980)">0</text>
<text class="num" transform="translate(931.89,1157.90) scale(0.92,0.980)">0</text>
<text class="num" transform="translate(1032.83,1157.90) scale(0.92,0.980)">1</text>
<text class="num" transform="translate(1133.76,1157.90) scale(0.92,0.980)">0</text>
<text class="num" transform="translate(1234.68,1157.90) scale(0.92,0.980)">1</text>
<text class="num" transform="translate(1335.62,1157.90) scale(0.92,0.980)">0</text>
<text class="num" transform="translate(1436.55,1157.90) scale(0.92,0.980)">0</text>
<text class="num" transform="translate(1537.47,1157.90) scale(0.92,0.980)">0</text>
<text class="num" transform="translate(1638.40,1157.90) scale(0.92,0.980)">0</text>
<text class="num" transform="translate(1739.34,1157.90) scale(0.92,0.980)">0</text>
<text class="num" transform="translate(830.97,1213.10) scale(0.92,1.007)">0</text>
<text class="num" transform="translate(931.89,1213.10) scale(0.92,1.007)">0</text>
<text class="num" transform="translate(1032.83,1213.10) scale(0.92,1.007)">0</text>
<text class="num" transform="translate(1133.76,1213.10) scale(0.92,1.007)">0</text>
<text class="num" transform="translate(1234.68,1213.10) scale(0.92,1.007)">0</text>
<text class="num" transform="translate(1335.62,1213.10) scale(0.92,1.007)">0</text>
<text class="num" transform="translate(1436.55,1213.10) scale(0.92,1.007)">1</text>
<text class="num" transform="translate(1537.47,1213.10) scale(0.92,1.007)">1</text>
<text class="num" transform="translate(1638.40,1213.10) scale(0.92,1.007)">0</text>
<text class="num" transform="translate(1739.34,1213.10) scale(0.92,1.007)">0</text>
<text class="num" transform="translate(830.97,1269.90) scale(0.92,1.003)">0</text>
<text class="num" transform="translate(931.89,1269.90) scale(0.92,1.003)">0</text>
<text class="num" transform="translate(1032.83,1269.90) scale(0.92,1.003)">0</text>
<text class="num" transform="translate(1133.76,1269.90) scale(0.92,1.003)">0</text>
<text class="num" transform="translate(1234.68,1269.90) scale(0.92,1.003)">2</text>
<text class="num" transform="translate(1335.62,1269.90) scale(0.92,1.003)">0</text>
<text class="num" transform="translate(1436.55,1269.90) scale(0.92,1.003)">0</text>
<text class="num" transform="translate(1537.47,1269.90) scale(0.92,1.003)">0</text>
<text class="num" transform="translate(1638.40,1269.90) scale(0.92,1.003)">0</text>
<text class="num" transform="translate(1739.34,1269.90) scale(0.92,1.003)">0</text>
<text class="num" transform="translate(830.97,1324.70) scale(0.92,0.932)">0</text>
<text class="num" transform="translate(931.89,1324.70) scale(0.92,0.932)">0</text>
<text class="num" transform="translate(1032.83,1324.70) scale(0.92,0.932)">0</text>
<text class="num" transform="translate(1133.76,1324.70) scale(0.92,0.932)">0</text>
<text class="num" transform="translate(1234.68,1324.70) scale(0.92,0.932)">0</text>
<text class="num" transform="translate(1335.62,1324.70) scale(0.92,0.932)">1</text>
<text class="num" transform="translate(1436.55,1324.70) scale(0.92,0.932)">0</text>
<text class="num" transform="translate(1537.47,1324.70) scale(0.92,0.932)">1</text>
<text class="num" transform="translate(1638.40,1324.70) scale(0.92,0.932)">0</text>
<text class="num" transform="translate(1739.34,1324.70) scale(0.92,0.932)">0</text>
<text class="num" transform="translate(830.97,1381.60) scale(0.92,0.983)">0</text>
<text class="num" transform="translate(931.89,1381.60) scale(0.92,0.983)">0</text>
<text class="num" transform="translate(1032.83,1381.60) scale(0.92,0.983)">0</text>
<text class="num" transform="translate(1133.76,1381.60) scale(0.92,0.983)">0</text>
<text class="num" transform="translate(1234.68,1381.60) scale(0.92,0.983)">1</text>
<text class="num" transform="translate(1335.62,1381.60) scale(0.92,0.983)">0</text>
<text class="num" transform="translate(1436.55,1381.60) scale(0.92,0.983)">0</text>
<text class="num" transform="translate(1537.47,1381.60) scale(0.92,0.983)">0</text>
<text class="num" transform="translate(1638.40,1381.60) scale(0.92,0.983)">0</text>
<text class="num" transform="translate(1739.34,1381.60) scale(0.92,0.983)">0</text>
<text class="num" transform="translate(830.97,1436.20) scale(0.92,0.908)">0</text>
<text class="num" transform="translate(931.89,1436.20) scale(0.92,0.908)">0</text>
<text class="num" transform="translate(1032.83,1436.20) scale(0.92,0.908)">0</text>
<text class="num" transform="translate(1133.76,1436.20) scale(0.92,0.908)">0</text>
<text class="num" transform="translate(1234.68,1436.20) scale(0.92,0.908)">0</text>
<text class="num" transform="translate(1335.62,1436.20) scale(0.92,0.908)">0</text>
<text class="num" transform="translate(1436.55,1436.20) scale(0.92,0.908)">0</text>
<text class="num" transform="translate(1537.47,1436.20) scale(0.92,0.908)">0</text>
<text class="num" transform="translate(1638.40,1436.20) scale(0.92,0.908)">1</text>
<text class="num" transform="translate(1739.34,1436.20) scale(0.92,0.908)">0</text>
<text class="num" transform="translate(830.97,1493.80) scale(0.92,1.003)">0</text>
<text class="num" transform="translate(931.89,1493.80) scale(0.92,1.003)">0</text>
<text class="num" transform="translate(1032.83,1493.80) scale(0.92,1.003)">0</text>
<text class="num" transform="translate(1133.76,1493.80) scale(0.92,1.003)">0</text>
<text class="num" transform="translate(1234.68,1493.80) scale(0.92,1.003)">0</text>
<text class="num" transform="translate(1335.62,1493.80) scale(0.92,1.003)">0</text>
<text class="num" transform="translate(1436.55,1493.80) scale(0.92,1.003)">0</text>
<text class="num" transform="translate(1537.47,1493.80) scale(0.92,1.003)">1</text>
<text class="num" transform="translate(1638.40,1493.80) scale(0.92,1.003)">0</text>
<text class="num" transform="translate(1739.34,1493.80) scale(0.92,1.003)">0</text>
<text class="num" transform="translate(830.97,1548.50) scale(0.92,0.932)">0</text>
<text class="num" transform="translate(931.89,1548.50) scale(0.92,0.932)">0</text>
<text class="num" transform="translate(1032.83,1548.50) scale(0.92,0.932)">0</text>
<text class="num" transform="translate(1133.76,1548.50) scale(0.92,0.932)">0</text>
<text class="num" transform="translate(1234.68,1548.50) scale(0.92,0.932)">0</text>
<text class="num" transform="translate(1335.62,1548.50) scale(0.92,0.932)">0</text>
<text class="num" transform="translate(1436.55,1548.50) scale(0.92,0.932)">1</text>
<text class="num" transform="translate(1537.47,1548.50) scale(0.92,0.932)">0</text>
<text class="num" transform="translate(1638.40,1548.50) scale(0.92,0.932)">0</text>
<text class="num" transform="translate(1739.34,1548.50) scale(0.92,0.932)">0</text>
</g>
<g id="labels">
<text class="lab" transform="translate(726.99,98.31) scale(0.9721,1)">Otorhinolaryngology</text>
<text class="lab" transform="translate(726.99,151.64) scale(0.9878,1)">Surgery</text>
<text class="lab" transform="translate(726.99,209.86) scale(0.9734,1)">Oncology</text>
<text class="lab" transform="translate(726.98,264.69) scale(0.9654,1)">Infectology</text>
<text class="lab" transform="translate(726.98,321.92) scale(0.9710,1)">Dermatology</text>
<text class="lab" transform="translate(729.37,376.54) scale(0.9808,1)">COVID care</text>
<text class="lab" transform="translate(729.67,432.77) scale(0.9778,1)">1st Internal Medicine</text>
<text class="lab" transform="translate(725.78,488.19) scale(0.9532,1)">2nd ICU</text>
<text class="lab" transform="translate(726.99,545.42) scale(0.9753,1)">Traumatology</text>
<text class="lab" transform="translate(729.67,599.65) scale(0.9781,1)">2nd Internal Medicine</text>
<text class="lab" transform="translate(728.69,656.57) scale(0.9767,1)">Emergency room</text>
<text class="lab" transform="translate(725.78,711.80) scale(0.9636,1)">3rd ICU</text>
<text class="lab" transform="translate(729.37,767.82) scale(0.9799,1)">Chronic care</text>
<text class="lab" transform="translate(727.70,822.95) scale(0.9739,1)">Obstetrics and Gynecology</text>
<text class="lab" transform="translate(726.98,880.28) scale(0.9646,1)">Neurology</text>
<text class="lab" transform="translate(726.99,934.30) scale(0.9750,1)">Neurosurgery</text>
<text class="lab" transform="translate(726.99,991.73) scale(0.9724,1)">Ophthalmology</text>
<text class="lab" transform="translate(729.36,1046.55) scale(0.9742,1)">Pediatrics</text>
<text class="lab" transform="translate(726.98,1104.08) scale(0.9588,1)">Urology</text>
<text class="lab" transform="translate(729.38,1158.11) scale(0.9782,1)">Dialysis</text>
<text class="lab" transform="translate(730.85,1216.13) scale(0.9813,1)">External hospital #2</text>
<text class="lab" transform="translate(728.69,1270.66) scale(0.9753,1)">Oro-Maxillofacial Surgery</text>
<text class="lab" transform="translate(729.70,1327.68) scale(0.9945,1)">Stroke</text>
<text class="lab" transform="translate(725.61,1382.11) scale(0.9663,1)">External hospital #1</text>
<text class="lab" transform="translate(729.37,1439.34) scale(0.9784,1)">Orthopedics</text>
<text class="lab" transform="translate(728.69,1494.06) scale(0.9718,1)">Psychiatry</text>
<text class="lab" transform="translate(726.98,1550.89) scale(0.9693,1)">Rheumatology</text>
</g>
<g id="years">
<text class="yr" transform="translate(856.90,1687.00) rotate(-90) scale(0.998,1)">2012</text>
<text class="yr" transform="translate(957.52,1687.00) rotate(-90) scale(0.998,1)">2013</text>
<text class="yr" transform="translate(1058.14,1687.00) rotate(-90) scale(0.998,1)">2014</text>
<text class="yr" transform="translate(1158.76,1687.00) rotate(-90) scale(0.998,1)">2015</text>
<text class="yr" transform="translate(1259.38,1687.00) rotate(-90) scale(0.998,1)">2016</text>
<text class="yr" transform="translate(1360.00,1687.00) rotate(-90) scale(0.998,1)">2017</text>
<text class="yr" transform="translate(1460.62,1687.00) rotate(-90) scale(0.998,1)">2018</text>
<text class="yr" transform="translate(1561.24,1687.00) rotate(-90) scale(0.998,1)">2019</text>
<text class="yr" transform="translate(1661.86,1687.00) rotate(-90) scale(0.998,1)">2020</text>
<text class="yr" transform="translate(1762.48,1687.00) rotate(-90) scale(0.998,1)">2021</text>
</g>
<g id="arrows">
<polygon points="1800.3,80.9 1849.7,60.4 1849.7,101.4" fill="#000"/>
<rect x="1848.7" y="78.1" width="44.7" height="5.6" fill="#000"/>
<polygon points="1801.8,138.1 1852.3,117.6 1852.3,158.6" fill="#000"/>
<rect x="1851.3" y="135.3" width="41.5" height="5.6" fill="#000"/>
<polygon points="1803.0,189.9 1852.3,169.4 1852.3,210.4" fill="#000"/>
<rect x="1851.3" y="187.1" width="44.5" height="5.6" fill="#000"/>
<polygon points="1803.0,250.9 1852.0,230.4 1852.0,271.4" fill="#ff0000"/>
<rect x="1851.0" y="248.1" width="44.8" height="5.6" fill="#ff0000"/>
<polygon points="1805.8,302.5 1855.0,282.0 1855.0,323.0" fill="#000"/>
<rect x="1854.0" y="299.7" width="44.9" height="5.6" fill="#000"/>
<polygon points="1805.8,360.0 1857.4,339.5 1857.4,380.5" fill="#ff0000"/>
<rect x="1856.4" y="357.2" width="42.5" height="5.6" fill="#ff0000"/>
<polygon points="1809.1,414.9 1857.4,394.4 1857.4,435.4" fill="#a0a0a4"/>
<rect x="1856.4" y="412.1" width="42.1" height="5.6" fill="#a0a0a4"/>
</g>
<g id="colorbar">
<rect x="1915.00" y="52.15" width="125.40" height="1510.00" fill="url(#cbg)" stroke="#000" stroke-width="10"/>
<rect x="1915.00" y="1497.45" width="23.10" height="9.6" fill="#000"/>
<rect x="2015.90" y="1497.45" width="24.50" height="9.6" fill="#000"/>
<rect x="1915.00" y="1437.05" width="23.10" height="9.6" fill="#000"/>
<rect x="2015.90" y="1437.05" width="24.50" height="9.6" fill="#000"/>
<rect x="1915.00" y="1376.65" width="23.10" height="9.6" fill="#000"/>
<rect x="2015.90" y="1376.65" width="24.50" height="9.6" fill="#000"/>
<rect x="1915.00" y="1316.25" width="23.10" height="9.6" fill="#000"/>
<rect x="2015.90" y="1316.25" width="24.50" height="9.6" fill="#000"/>
<rect x="1915.00" y="1255.85" width="23.10" height="9.6" fill="#000"/>
<rect x="2015.90" y="1255.85" width="24.50" height="9.6" fill="#000"/>
<rect x="1915.00" y="1195.45" width="23.10" height="9.6" fill="#000"/>
<rect x="2015.90" y="1195.45" width="24.50" height="9.6" fill="#000"/>
<rect x="1915.00" y="1135.05" width="23.10" height="9.6" fill="#000"/>
<rect x="2015.90" y="1135.05" width="24.50" height="9.6" fill="#000"/>
<rect x="1915.00" y="1074.65" width="23.10" height="9.6" fill="#000"/>
<rect x="2015.90" y="1074.65" width="24.50" height="9.6" fill="#000"/>
<rect x="1915.00" y="1014.25" width="23.10" height="9.6" fill="#000"/>
<rect x="2015.90" y="1014.25" width="24.50" height="9.6" fill="#000"/>
<rect x="1915.00" y="953.85" width="23.10" height="9.6" fill="#000"/>
<rect x="2015.90" y="953.85" width="24.50" height="9.6" fill="#000"/>
<rect x="1915.00" y="893.45" width="23.10" height="9.6" fill="#000"/>
<rect x="2015.90" y="893.45" width="24.50" height="9.6" fill="#000"/>
<rect x="1915.00" y="833.05" width="23.10" height="9.6" fill="#000"/>
<rect x="2015.90" y="833.05" width="24.50" height="9.6" fill="#000"/>
<rect x="1915.00" y="772.65" width="23.10" height="9.6" fill="#000"/>
<rect x="2015.90" y="772.65" width="24.50" height="9.6" fill="#000"/>
<rect x="1915.00" y="712.25" width="23.10" height="9.6" fill="#000"/>
<rect x="2015.90" y="712.25" width="24.50" height="9.6" fill="#000"/>
<rect x="1915.00" y="651.85" width="23.10" height="9.6" fill="#000"/>
<rect x="2015.90" y="651.85" width="24.50" height="9.6" fill="#000"/>
<rect x="1915.00" y="591.45" width="23.10" height="9.6" fill="#000"/>
<rect x="2015.90" y="591.45" width="24.50" height="9.6" fill="#000"/>
<rect x="1915.00" y="531.05" width="23.10" height="9.6" fill="#000"/>
<rect x="2015.90" y="531.05" width="24.50" height="9.6" fill="#000"/>
<rect x="1915.00" y="470.65" width="23.10" height="9.6" fill="#000"/>
<rect x="2015.90" y="470.65" width="24.50" height="9.6" fill="#000"/>
<rect x="1915.00" y="410.25" width="23.10" height="9.6" fill="#000"/>
<rect x="2015.90" y="410.25" width="24.50" height="9.6" fill="#000"/>
<rect x="1915.00" y="349.85" width="23.10" height="9.6" fill="#000"/>
<rect x="2015.90" y="349.85" width="24.50" height="9.6" fill="#000"/>
<rect x="1915.00" y="289.45" width="23.10" height="9.6" fill="#000"/>
<rect x="2015.90" y="289.45" width="24.50" height="9.6" fill="#000"/>
<rect x="1915.00" y="229.05" width="23.10" height="9.6" fill="#000"/>
<rect x="2015.90" y="229.05" width="24.50" height="9.6" fill="#000"/>
<rect x="1915.00" y="168.65" width="23.10" height="9.6" fill="#000"/>
<rect x="2015.90" y="168.65" width="24.50" height="9.6" fill="#000"/>
<rect x="1915.00" y="108.25" width="23.10" height="9.6" fill="#000"/>
<rect x="2015.90" y="108.25" width="24.50" height="9.6" fill="#000"/>
<text class="cb" transform="translate(2085.70,1582.75) scale(0.95,0.964)">0</text>
<text class="cb" transform="translate(2085.70,1522.35) scale(0.95,0.964)">1</text>
<text class="cb" transform="translate(2085.70,1461.95) scale(0.95,0.964)">2</text>
<text class="cb" transform="translate(2085.70,1401.55) scale(0.95,0.964)">3</text>
<text class="cb" transform="translate(2085.70,1341.15) scale(0.95,0.964)">4</text>
<text class="cb" transform="translate(2085.70,1280.75) scale(0.95,0.964)">5</text>
<text class="cb" transform="translate(2085.70,1220.35) scale(0.95,0.964)">6</text>
<text class="cb" transform="translate(2085.70,1159.95) scale(0.95,0.964)">7</text>
<text class="cb" transform="translate(2085.70,1099.55) scale(0.95,0.964)">8</text>
<text class="cb" transform="translate(2085.70,1039.15) scale(0.95,0.964)">9</text>
<text class="cb" transform="translate(2086.70,978.75) scale(1,0.964)">10</text>
<text class="cb" transform="translate(2086.70,918.35) scale(1,0.964)">11</text>
<text class="cb" transform="translate(2086.70,857.95) scale(1,0.964)">12</text>
<text class="cb" transform="translate(2086.70,797.55) scale(1,0.964)">13</text>
<text class="cb" transform="translate(2086.70,737.15) scale(1,0.964)">14</text>
<text class="cb" transform="translate(2086.70,676.75) scale(1,0.964)">15</text>
<text class="cb" transform="translate(2086.70,616.35) scale(1,0.964)">16</text>
<text class="cb" transform="translate(2086.70,555.95) scale(1,0.964)">17</text>
<text class="cb" transform="translate(2086.70,495.55) scale(1,0.964)">18</text>
<text class="cb" transform="translate(2086.70,435.15) scale(1,0.964)">19</text>
<text class="cb" transform="translate(2084.80,374.75) scale(1,0.964)">20</text>
<text class="cb" transform="translate(2084.80,314.35) scale(1,0.964)">21</text>
<text class="cb" transform="translate(2084.80,253.95) scale(1,0.964)">22</text>
<text class="cb" transform="translate(2084.80,193.55) scale(1,0.964)">23</text>
<text class="cb" transform="translate(2084.80,133.15) scale(1,0.964)">24</text>
<text class="cb" transform="translate(2084.80,72.75) scale(1,0.964)">25</text>
</g>
</svg>
</body></html>
